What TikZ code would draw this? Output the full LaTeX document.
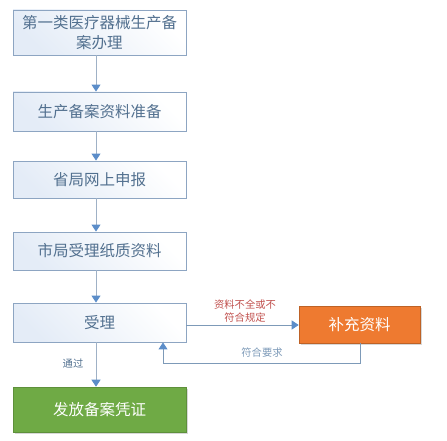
\documentclass[tikz,border=0pt]{standalone}
\usepackage{fontspec}
\setmainfont{Noto Sans CJK SC}
\usetikzlibrary{arrows.meta,shadows,calc}
\definecolor{boxline}{HTML}{8DA5C2}
\definecolor{boxtext}{HTML}{52708F}
\definecolor{boxfill}{HTML}{E4ECF7}
\definecolor{conn}{HTML}{9FB1C6}
\definecolor{tipc}{HTML}{5B8DC9}
\definecolor{hconn}{HTML}{7D9AB8}
\definecolor{okgreen}{HTML}{6FAA45}
\definecolor{orng}{HTML}{EE7A30}
\definecolor{warnred}{HTML}{C0504D}
\tikzset{
  stepbox/.style={draw=boxline, line width=0.9pt, left color=boxfill, right color=white, shading angle=135,
    text=boxtext, font=\fontsize{15.5}{19.5}\selectfont, align=center, inner sep=0pt,
    drop shadow={shadow xshift=1.2pt, shadow yshift=-1.2pt, fill=black!25, opacity=0.4}},
  endbox/.style={draw=okgreen!85!black, line width=0.6pt, fill=okgreen, text=white, font=\fontsize{15.5}{19.5}\selectfont, inner sep=0pt,
    drop shadow={shadow xshift=1.5pt, shadow yshift=-1.5pt, fill=black!30, opacity=0.5}},
  fixbox/.style={draw=orng!80!black, line width=0.6pt, fill=orng, text=white, font=\fontsize{15.5}{19.5}\selectfont, inner sep=0pt,
    drop shadow={shadow xshift=1.5pt, shadow yshift=-1.5pt, fill=black!30, opacity=0.5}},
  vflow/.style={draw=conn, line width=1pt, -{Triangle[width=9pt,length=7pt,fill=tipc,color=tipc]}},
  hflow/.style={draw=hconn, line width=1pt, -{Triangle[width=9pt,length=7pt,fill=tipc,color=tipc]}},
  smalllbl/.style={font=\fontsize{10.3}{12.5}\selectfont, align=center, inner sep=0pt},
}
\begin{document}
\begin{tikzpicture}[x=1pt,y=-1pt]
\useasboundingbox (0,0) rectangle (447,441);
\node[stepbox, minimum width=173pt, minimum height=45pt] (b1) at (99.5,32.5) {第一类医疗器械生产备\\案办理};
\node[stepbox, minimum width=173pt, minimum height=39pt] (b2) at (99.5,111.5) {生产备案资料准备};
\node[stepbox, minimum width=173pt, minimum height=37pt] (b3) at (99.5,179.5) {省局网上申报};
\node[stepbox, minimum width=173pt, minimum height=38pt] (b4) at (99.5,251) {市局受理纸质资料};
\node[stepbox, minimum width=173pt, minimum height=39pt] (b5) at (99.5,322.5) {受理};
\node[endbox, minimum width=173pt, minimum height=45pt] (b6) at (99.5,409.5) {发放备案凭证};
\node[fixbox, minimum width=121pt, minimum height=37pt] (fx) at (359.5,324.5) {补充资料};

\draw[vflow] ([xshift=-3.5pt]b1.south) -- ([xshift=-3.5pt]b2.north);
\draw[vflow] ([xshift=-3.5pt]b2.south) -- ([xshift=-3.5pt]b3.north);
\draw[vflow] ([xshift=-3.5pt]b3.south) -- ([xshift=-3.5pt]b4.north);
\draw[vflow] ([xshift=-3.5pt]b4.south) -- ([xshift=-3.5pt]b5.north);
\draw[vflow] ([xshift=-3.5pt]b5.south) -- ([xshift=-3.5pt]b6.north);

\coordinate (a1) at ([yshift=-2.5pt]b5.east);
\coordinate (a2) at (fx.west|-a1);
\draw[hflow] (a1) -- (a2);
\coordinate (r1) at ([xshift=0.5pt]fx.south);
\coordinate (r2) at ($(b5.south)+(63.5,0)$);
\coordinate (r3) at ($(r1)+(0,20)$);
\draw[hflow] (r1) -- (r3) -- (r3-|r2) -- (r2);

\node[smalllbl, text=warnred] (l1) at (245,311) {资料不全或不\\符合规定};
\node[smalllbl, text=hconn] (l2) at (262,353) {符合要求};
\node[smalllbl, text=boxtext] (l3) at (73,364) {通过};
\end{tikzpicture}
\end{document}
